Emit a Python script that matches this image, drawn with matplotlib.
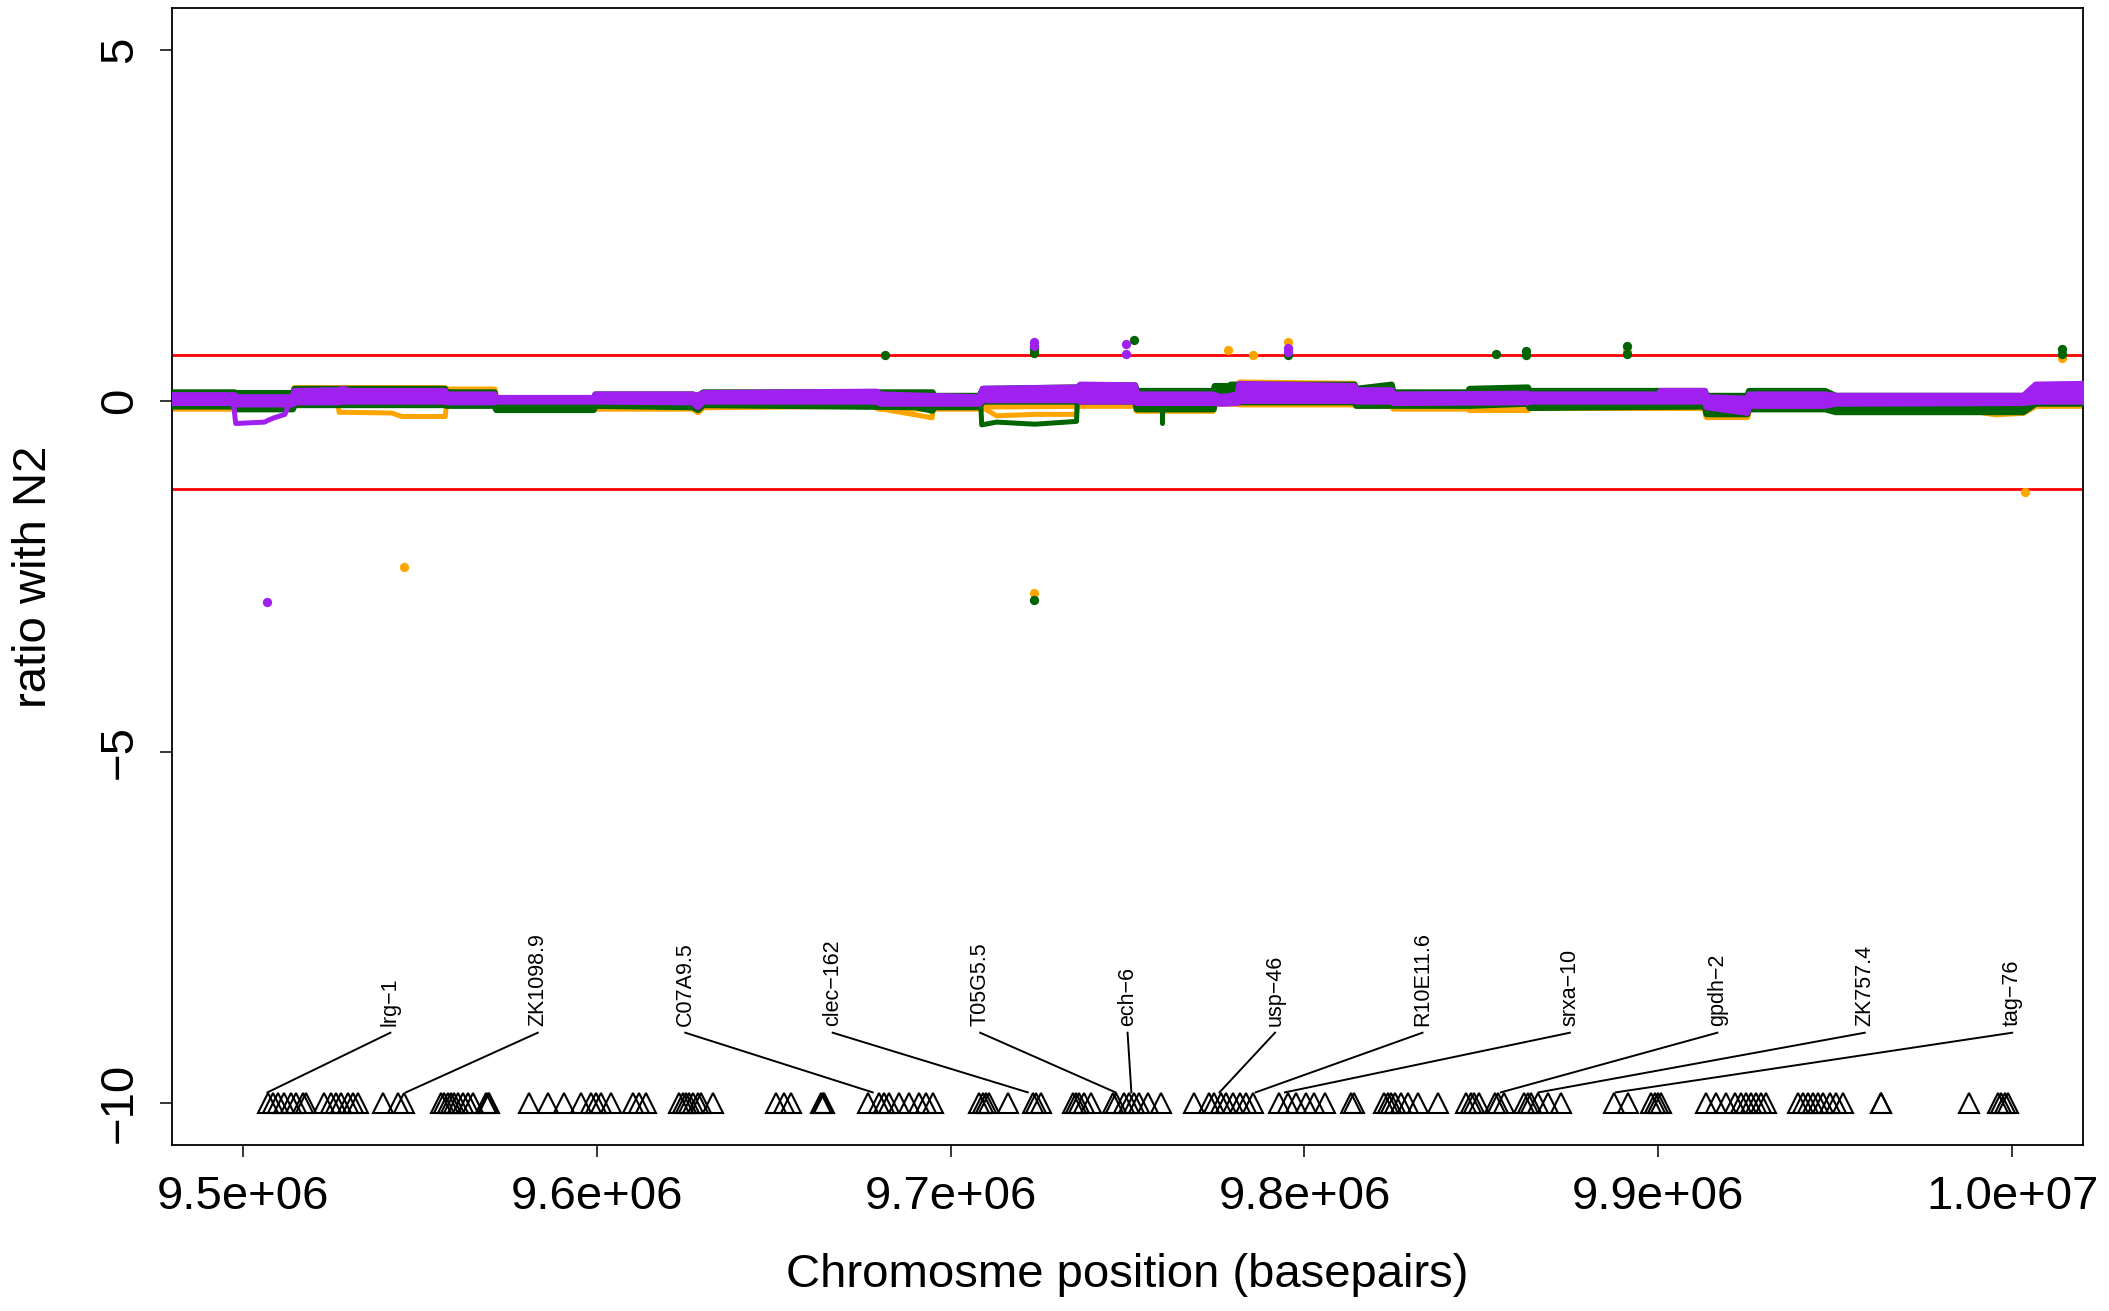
import matplotlib
matplotlib.use("Agg")
import matplotlib.pyplot as plt
import numpy as np

plt.rcParams['font.family'] = ['Liberation Sans', 'DejaVu Sans']

# ---------------- data ----------------
# running ratio bands (x in bp, upper and lower envelope of the thick traces)
orange_x = [9.4800e6, 9.4975e6, 9.4980e6, 9.5140e6, 9.5145e6, 9.5570e6, 9.5575e6, 9.5710e6, 9.5715e6,
            9.6270e6, 9.6285e6, 9.6300e6, 9.6740e6, 9.6790e6, 9.6795e6, 9.7080e6, 9.7090e6, 9.7358e6,
            9.7360e6, 9.7520e6, 9.7525e6, 9.7740e6, 9.7745e6, 9.7810e6, 9.7815e6, 9.8140e6, 9.8145e6,
            9.8245e6, 9.8250e6, 9.8460e6, 9.8465e6, 9.8630e6, 9.8635e6, 9.9130e6, 9.9135e6, 9.9250e6,
            9.9255e6, 9.9470e6, 9.9500e6, 9.9900e6, 9.9950e6, 10.0030e6, 10.0065e6, 10.0200e6]
orange_hi = [0.08, 0.08, 0.08, 0.08, 0.19, 0.19, 0.17, 0.17, 0.03,
             0.03, 0.03, 0.08, 0.08, 0.08, -0.02, -0.02, -0.02, -0.02,
             0.08, 0.08, 0.03, 0.03, 0.12, 0.12, 0.27, 0.25, 0.08,
             0.08, 0.03, 0.03, 0.03, 0.03, 0.03, 0.03, -0.02, -0.02,
             0.03, 0.03, 0.03, 0.03, -0.02, -0.02, 0.08, 0.08]
orange_lo = [-0.10, -0.10, -0.09, -0.09, -0.04, -0.04, -0.05, -0.05, -0.10,
             -0.10, -0.15, -0.08, -0.06, -0.05, -0.10, -0.10, -0.07, -0.06,
             -0.06, -0.06, -0.13, -0.13, -0.03, -0.03, -0.04, -0.04, -0.06,
             -0.06, -0.10, -0.10, -0.12, -0.12, -0.09, -0.09, -0.22, -0.22,
             -0.09, -0.09, -0.13, -0.14, -0.18, -0.16, -0.06, -0.06]

green_x = [9.4800e6, 9.4975e6, 9.4980e6, 9.5140e6, 9.5145e6, 9.5570e6, 9.5575e6, 9.5710e6, 9.5715e6,
           9.5990e6, 9.5995e6, 9.6270e6, 9.6285e6, 9.6300e6, 9.6900e6, 9.6948e6, 9.6950e6, 9.7080e6,
           9.7090e6, 9.7360e6, 9.7365e6, 9.7520e6, 9.7525e6, 9.7742e6, 9.7745e6, 9.7787e6, 9.7790e6,
           9.8140e6, 9.8145e6, 9.8245e6, 9.8250e6, 9.8460e6, 9.8465e6, 9.8630e6, 9.8635e6, 9.9130e6,
           9.9135e6, 9.9250e6, 9.9255e6, 9.9470e6, 9.9500e6, 10.0030e6, 10.0065e6, 10.0200e6]
green_hi = [0.13, 0.13, 0.12, 0.12, 0.18, 0.18, 0.13, 0.13, 0.03,
            0.03, 0.10, 0.10, 0.08, 0.13, 0.13, 0.13, 0.08, 0.08,
            0.18, 0.20, 0.23, 0.23, 0.15, 0.15, 0.22, 0.22, 0.24,
            0.24, 0.18, 0.24, 0.13, 0.13, 0.18, 0.20, 0.15, 0.15,
            0.08, 0.08, 0.15, 0.15, 0.08, 0.08, 0.18, 0.18]
green_lo = [-0.07, -0.07, -0.11, -0.11, -0.05, -0.05, -0.06, -0.06, -0.12,
            -0.12, -0.06, -0.08, -0.12, -0.05, -0.08, -0.13, -0.08, -0.08,
            0.00, 0.00, 0.00, 0.00, -0.11, -0.11, -0.01, -0.01, -0.01,
            -0.01, -0.06, -0.06, -0.06, -0.06, -0.06, -0.03, -0.09, -0.07,
            -0.18, -0.18, -0.11, -0.11, -0.15, -0.15, -0.03, -0.03]

purple_x = [9.4800e6, 9.4975e6, 9.4980e6, 9.5140e6, 9.5145e6, 9.5270e6, 9.5280e6, 9.5300e6, 9.5570e6,
            9.5575e6, 9.5710e6, 9.5715e6, 9.5990e6, 9.5995e6, 9.6270e6, 9.6285e6, 9.6300e6, 9.6790e6,
            9.6800e6, 9.7080e6, 9.7090e6, 9.7360e6, 9.7365e6, 9.7520e6, 9.7525e6, 9.7740e6, 9.7765e6,
            9.7810e6, 9.7815e6, 9.8140e6, 9.8145e6, 9.8245e6, 9.8250e6, 9.8630e6, 9.8635e6, 9.9000e6,
            9.9005e6, 9.9130e6, 9.9135e6, 9.9250e6, 9.9255e6, 9.9470e6, 9.9500e6, 10.0030e6, 10.0065e6,
            10.0200e6]
purple_hi = [0.09, 0.09, 0.06, 0.06, 0.15, 0.16, 0.18, 0.15, 0.15,
             0.10, 0.10, 0.05, 0.05, 0.10, 0.10, 0.08, 0.12, 0.14,
             0.10, 0.06, 0.18, 0.20, 0.24, 0.23, 0.10, 0.10, 0.06,
             0.10, 0.25, 0.22, 0.16, 0.16, 0.10, 0.11, 0.10, 0.10,
             0.15, 0.15, 0.06, 0.04, 0.10, 0.10, 0.08, 0.08, 0.24,
             0.25]
purple_lo = [-0.02, -0.02, -0.04, -0.04, -0.01, -0.01, 0.00, 0.00, 0.00,
             -0.01, -0.01, 0.00, 0.00, 0.00, -0.01, -0.08, 0.00, 0.00,
             -0.03, -0.03, 0.02, 0.02, 0.00, 0.00, -0.02, -0.02, -0.03,
             -0.02, 0.01, 0.01, 0.00, 0.00, -0.02, -0.01, 0.00, 0.00,
             0.00, 0.00, -0.08, -0.16, -0.06, -0.06, -0.03, -0.02, 0.00,
             0.00]

# excursions of the traces that leave the bands
purple_loop_x = [9.4974e6, 9.4980e6, 9.5062e6, 9.5069e6, 9.5088e6, 9.5119e6, 9.5132e6]
purple_loop_y = [-0.04, -0.32, -0.30, -0.28, -0.24, -0.19, -0.02]
orange_loop1_x = [9.5269e6, 9.5272e6, 9.5420e6, 9.5450e6, 9.5572e6, 9.5575e6]
orange_loop1_y = [-0.03, -0.16, -0.17, -0.22, -0.22, -0.08]
orange_loop2_x = [9.6790e6, 9.6916e6, 9.6948e6, 9.6950e6]
orange_loop2_y = [-0.10, -0.21, -0.24, -0.12]
orange_loop3_x = [9.7090e6, 9.7130e6, 9.7238e6, 9.7356e6, 9.7358e6]
orange_loop3_y = [-0.09, -0.21, -0.19, -0.19, -0.06]
green_loop1_x = [9.7086e6, 9.7088e6, 9.7130e6, 9.7238e6, 9.7356e6, 9.7358e6]
green_loop1_y = [-0.10, -0.34, -0.30, -0.33, -0.29, -0.02]
green_spike_x = [9.7597e6, 9.7597e6]
green_spike_y = [-0.10, -0.32]

# single outlying probes
orange_pt_x = [9.5455e6, 9.7236e6, 9.7237e6, 9.7784e6, 9.7856e6, 9.7954e6, 9.8911e6, 10.0036e6, 10.0141e6]
orange_pt_y = [-2.37, -2.74, 0.75, 0.73, 0.65, 0.84, 0.72, -1.30, 0.62]
green_pt_x = [9.6816e6, 9.7237e6, 9.7237e6, 9.7236e6, 9.7517e6, 9.7954e6, 9.8540e6, 9.8627e6, 9.8627e6,
              9.8911e6, 9.8911e6, 10.0141e6, 10.0141e6]
green_pt_y = [0.65, 0.69, 0.74, -2.84, 0.87, 0.66, 0.67, 0.71, 0.65, 0.79, 0.67, 0.74, 0.67]
purple_pt_x = [9.5069e6, 9.7237e6, 9.7237e6, 9.7497e6, 9.7497e6, 9.7954e6, 9.7954e6]
purple_pt_y = [-2.86, 0.835, 0.78, 0.81, 0.67, 0.76, 0.70]

# thresholds
upper_threshold = 0.65
lower_threshold = -1.26

# gene positions (triangles)
gene_pos = [9.50705e6, 9.50846e6, 9.50987e6, 9.51176e6, 9.51364e6, 9.51505e6, 9.51694e6, 9.51788e6,
            9.52306e6, 9.52494e6, 9.52636e6, 9.52777e6, 9.52965e6, 9.53107e6, 9.53248e6,
            9.53955e6, 9.54378e6, 9.54567e6,
            9.55603e6, 9.55697e6, 9.55791e6, 9.55886e6, 9.55980e6, 9.56074e6, 9.56215e6, 9.56357e6,
            9.56498e6, 9.56880e6, 9.56920e6, 9.56970e6,
            9.58099e6, 9.58617e6, 9.59088e6, 9.59559e6, 9.59842e6, 9.59983e6, 9.60125e6, 9.60407e6,
            9.61019e6, 9.61208e6, 9.61396e6,
            9.62339e6, 9.62433e6, 9.62527e6, 9.62621e6, 9.62715e6, 9.62857e6, 9.62951e6, 9.63280e6,
            9.65070e6, 9.65306e6, 9.65494e6, 9.66342e6, 9.66389e6, 9.66436e6,
            9.67661e6, 9.67990e6, 9.68132e6, 9.68273e6, 9.68556e6, 9.68838e6, 9.69121e6, 9.69309e6,
            9.69498e6,
            9.70817e6, 9.70911e6, 9.71005e6, 9.71099e6, 9.71617e6, 9.72324e6, 9.72418e6, 9.72559e6,
            9.73454e6, 9.73548e6, 9.73642e6, 9.73783e6, 9.73971e6, 9.74584e6, 9.74678e6,
            9.74915e6, 9.75056e6, 9.75197e6, 9.75339e6, 9.75574e6, 9.75950e6,
            9.76893e6, 9.77317e6, 9.77458e6, 9.77646e6, 9.77788e6, 9.77976e6, 9.78165e6, 9.78353e6,
            9.78541e6,
            9.79295e6, 9.79530e6, 9.79766e6, 9.80049e6, 9.80284e6, 9.80567e6, 9.81315e6, 9.81414e6,
            9.82262e6, 9.82356e6, 9.82450e6, 9.82545e6, 9.82733e6, 9.82922e6, 9.83204e6, 9.83769e6,
            9.84568e6, 9.84710e6, 9.84804e6, 9.84945e6, 9.85371e6, 9.85465e6, 9.85653e6,
            9.86218e6, 9.86312e6, 9.86407e6, 9.86595e6, 9.86878e6, 9.87250e6,
            9.88761e6, 9.89138e6, 9.89798e6, 9.89892e6, 9.89986e6, 9.90080e6,
            9.91352e6, 9.91635e6, 9.91917e6, 9.92153e6, 9.92341e6, 9.92482e6, 9.92624e6, 9.92765e6,
            9.92906e6, 9.93048e6,
            9.93943e6, 9.94084e6, 9.94225e6, 9.94366e6, 9.94508e6, 9.94649e6, 9.94837e6, 9.95026e6,
            9.95214e6, 9.96290e6, 9.96306e6,
            9.98775e6, 9.99594e6, 9.99688e6, 9.99782e6, 9.99877e6]

# labelled genes
gene_labels = ["lrg\u22121", "ZK1098.9", "C07A9.5", "clec\u2212162", "T05G5.5", "ech\u22126",
               "usp\u221246", "R10E11.6", "srxa\u221210", "gpdh\u22122", "ZK757.4", "tag\u221276"]
label_gene_pos = [9.5070e6, 9.5461e6, 9.6780e6, 9.7218e6, 9.7466e6, 9.7511e6,
                  9.7760e6, 9.7862e6, 9.7945e6, 9.8555e6, 9.8662e6, 9.8880e6]
label_text_pos = [9.54170e6, 9.58336e6, 9.62503e6, 9.66669e6, 9.70836e6, 9.75002e6,
                  9.79168e6, 9.83335e6, 9.87501e6, 9.91668e6, 9.95834e6, 10.00000e6]

x_ticks = [9.5e6, 9.6e6, 9.7e6, 9.8e6, 9.9e6, 1.0e7]
x_tick_labels = ["9.5e+06", "9.6e+06", "9.7e+06", "9.8e+06", "9.9e+06", "1.0e+07"]
y_ticks = [-10, -5, 0, 5]
y_tick_labels = ["\u221210", "\u22125", "0", "5"]

# ---------------- plot ----------------
W, H = 2109, 1311
fig = plt.figure(figsize=(W / 100, H / 100), dpi=100)
ax = fig.add_axes([172 / W, 1 - 1145 / H, (2083 - 172) / W, (1145 - 8) / H])
ax.set_xlim(9.48e6, 1.002e7)
ax.set_ylim(-10.6, 5.6)

ORANGE = "#FFA500"
GREEN = "#006400"
PURPLE = "#A020F0"

ax.axhline(upper_threshold, color="red", lw=2.0, zorder=1)
ax.axhline(lower_threshold, color="red", lw=2.0, zorder=1)

def band(x, lo, hi, c, z):
    ax.fill_between(x, lo, hi, color=c, lw=4.5, edgecolor=c, zorder=z, joinstyle='round')

band(orange_x, orange_lo, orange_hi, ORANGE, 2)
for lx, ly in [(orange_loop1_x, orange_loop1_y), (orange_loop2_x, orange_loop2_y),
               (orange_loop3_x, orange_loop3_y)]:
    ax.plot(lx, ly, color=ORANGE, lw=3.6, zorder=2, solid_joinstyle='round', solid_capstyle='round')
band(green_x, green_lo, green_hi, GREEN, 3)
for lx, ly in [(green_loop1_x, green_loop1_y), (green_spike_x, green_spike_y)]:
    ax.plot(lx, ly, color=GREEN, lw=3.6, zorder=3, solid_joinstyle='round', solid_capstyle='round')
band(purple_x, purple_lo, purple_hi, PURPLE, 4)
ax.plot(purple_loop_x, purple_loop_y, color=PURPLE, lw=3.6, zorder=4,
        solid_joinstyle='round', solid_capstyle='round')

ax.plot(orange_pt_x, orange_pt_y, 'o', color=ORANGE, ms=6.7, mew=0, zorder=5)
ax.plot(green_pt_x, green_pt_y, 'o', color=GREEN, ms=6.7, mew=0, zorder=6)
ax.plot(purple_pt_x, purple_pt_y, 'o', color=PURPLE, ms=6.7, mew=0, zorder=7)

# gene triangles
ax.plot(gene_pos, [-10] * len(gene_pos), '^', mfc='none', mec='black', ms=14.5, mew=1.5,
        linestyle='none', zorder=8)

# gene labels with connectors
for name, gx, tx in zip(gene_labels, label_gene_pos, label_text_pos):
    ax.plot([tx, gx], [-9.0, -9.85], color='black', lw=1.4, zorder=9)
    ax.text(tx, -8.9, name, rotation=90, ha='center', va='bottom', fontsize=15.5, zorder=9)

ax.set_xticks(x_ticks)
ax.set_xticklabels(x_tick_labels)
ax.set_yticks(y_ticks)
ax.set_yticklabels(y_tick_labels, rotation=90, va='center')
ax.tick_params(axis='both', direction='out', length=8.6, width=1.1, labelsize=34, pad=13)
for s in ax.spines.values():
    s.set_linewidth(1.3)

fig.text(1127.5 / W, 1 - 1275 / H, "Chromosme position (basepairs)", ha='center', va='center', fontsize=34)
fig.text(34 / W, 1 - 577 / H, "ratio with N2", ha='center', va='center', rotation=90, fontsize=34)

fig.savefig("out.png", dpi=100)
